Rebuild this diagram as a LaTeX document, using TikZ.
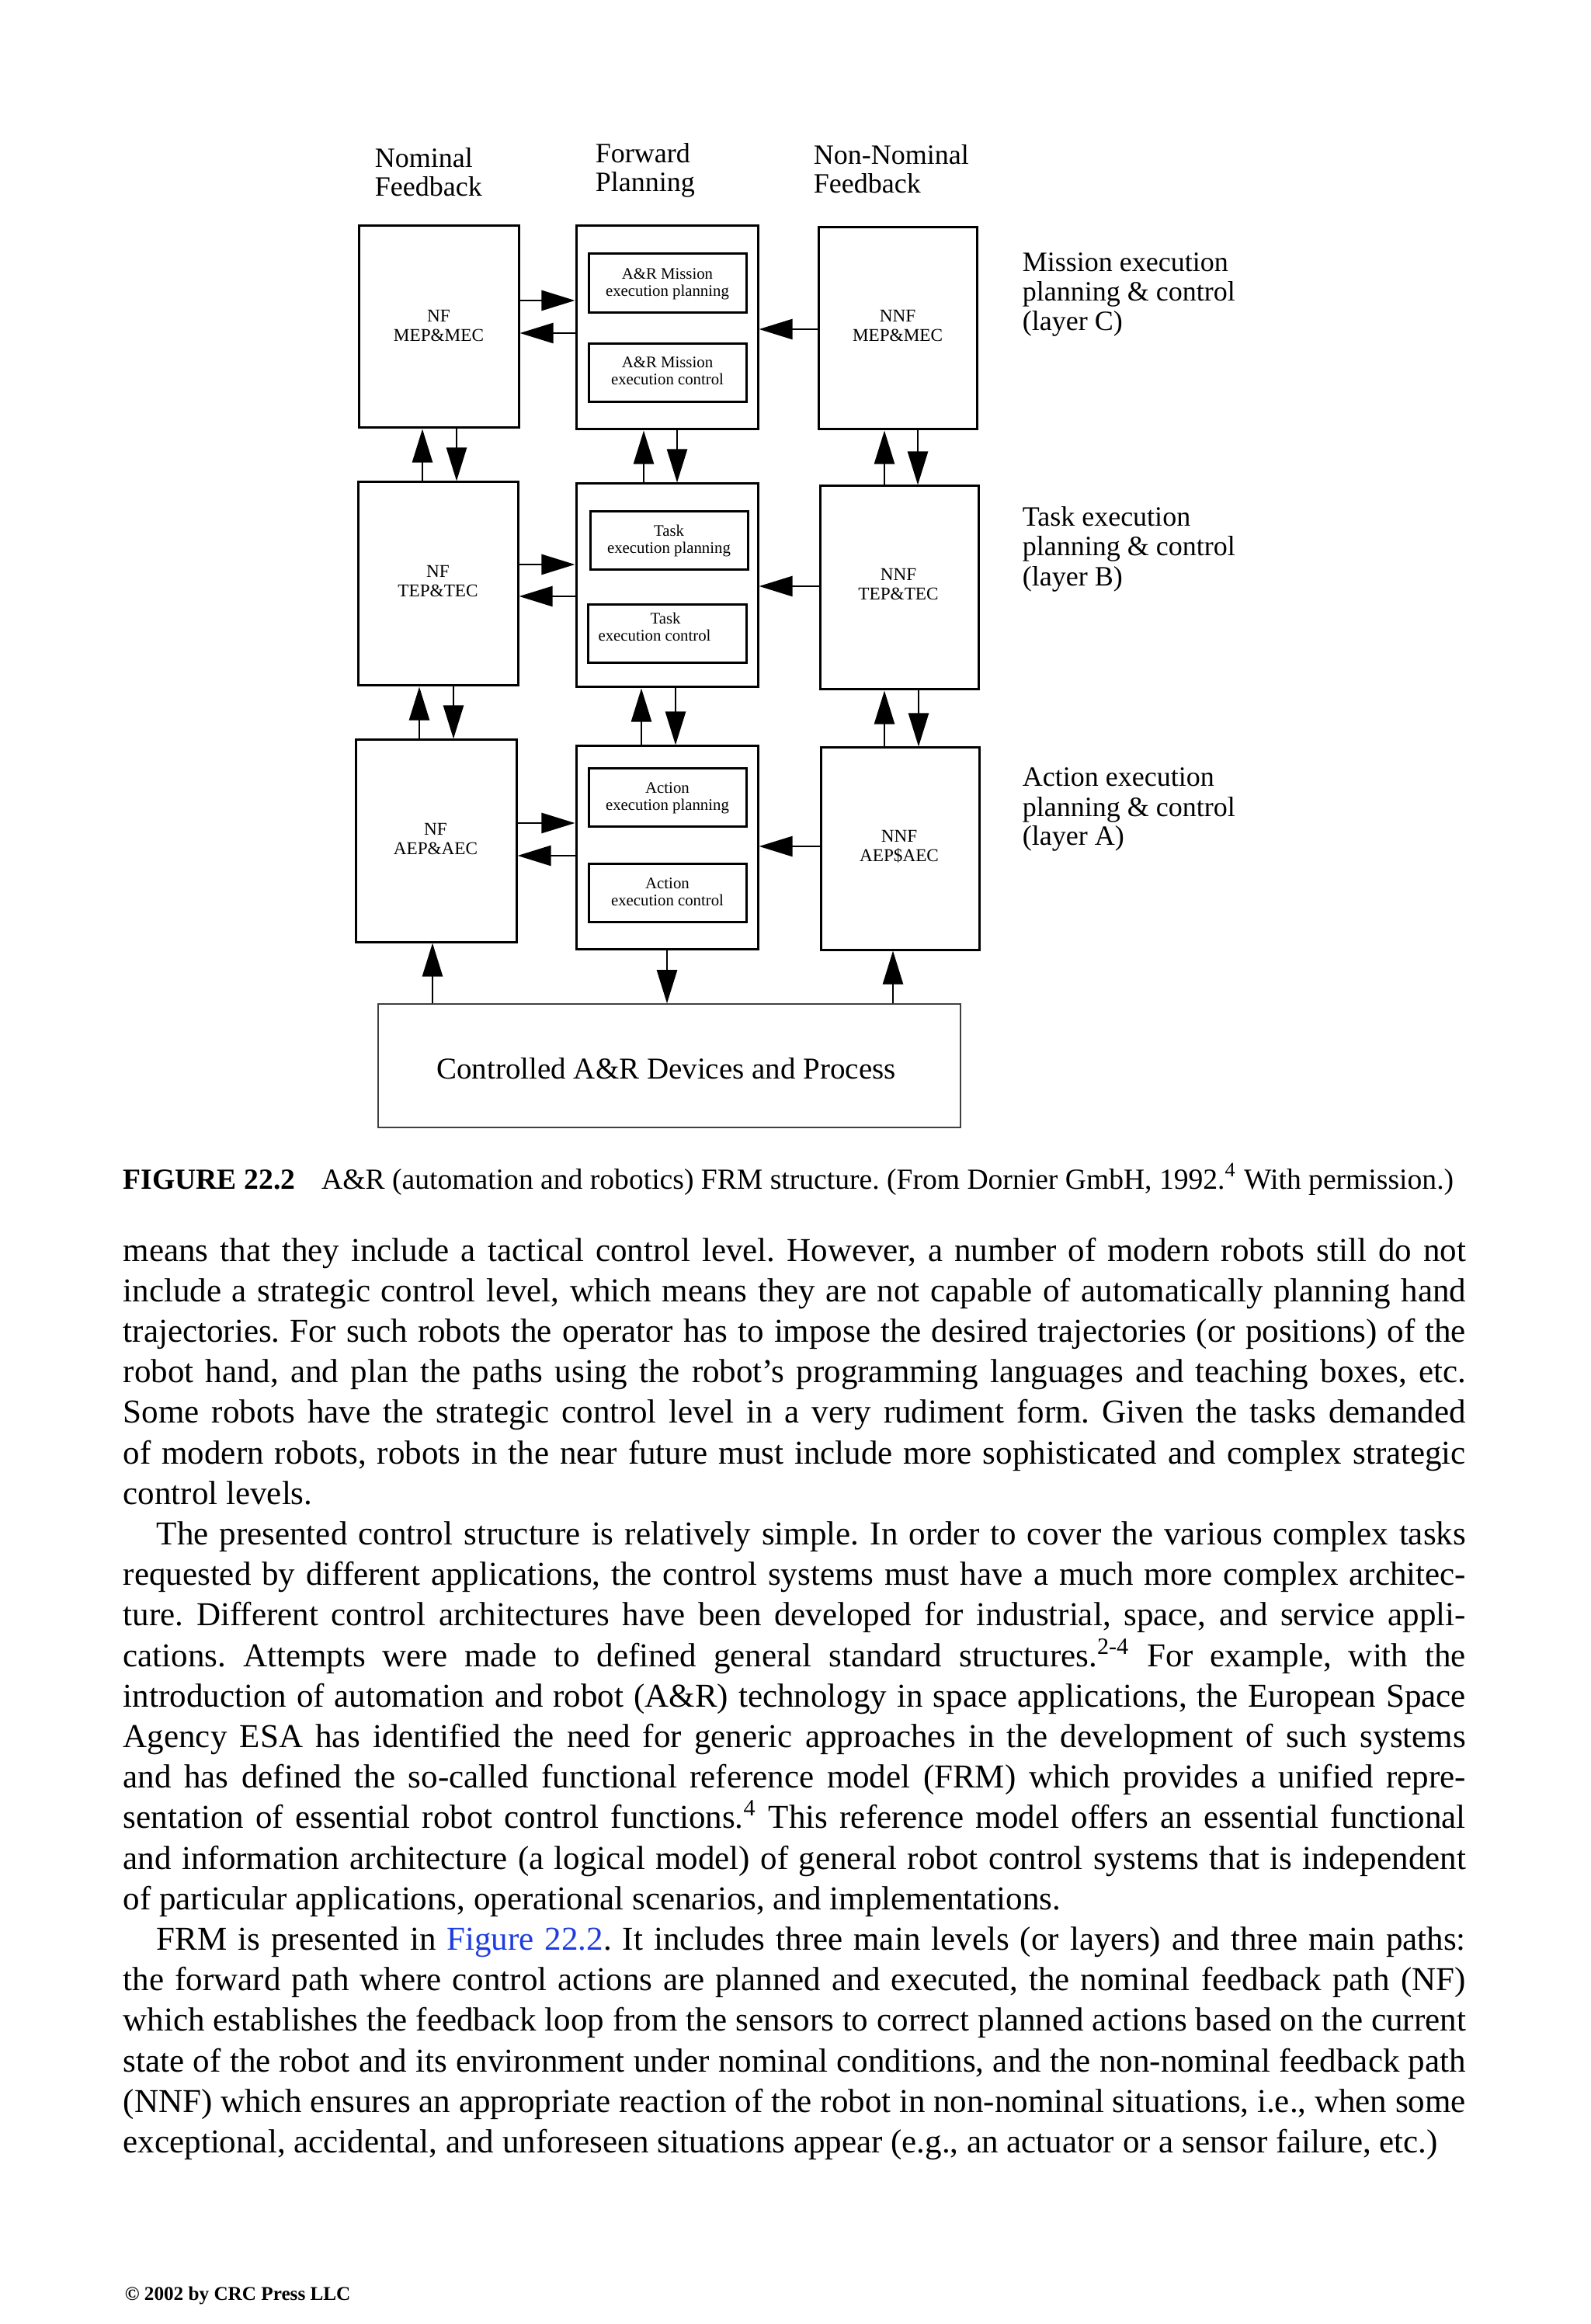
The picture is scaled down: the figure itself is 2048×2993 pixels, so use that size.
\documentclass[tikz,border=0pt]{standalone}
\usepackage{fontspec}
\setmainfont{Liberation Serif}
\usetikzlibrary{arrows.meta,fit}
\definecolor{figblue}{RGB}{30,60,225}
\frenchspacing
\newcommand\myflab{\fontsize{5.8pt}{6.25pt}\selectfont}
\newcommand\myfinn{\fontsize{5.2pt}{5.5pt}\selectfont}
\newcommand\myfdev{\fontsize{9.75pt}{11pt}\selectfont}
\newcommand\myfhead{\fontsize{9pt}{9.5pt}\selectfont}
\newcommand\myfbody{\fontsize{10.75pt}{13pt}\selectfont}
\newcommand\myfcap{\fontsize{9.4pt}{11pt}\selectfont}
\newcommand\myfcopy{\fontsize{6.3pt}{8pt}\selectfont\bfseries}
\newcommand\myjline[3]{\node[txt,font=\myfbody] (#1) at (158,#2) {\hbox to 432.25pt{#3}};}
\newcommand\mynline[3]{\node[txt,font=\myfbody] (#1) at (158,#2) {#3};}
\begin{document}
\begin{tikzpicture}[x=0.25pt,y=-0.25pt,
  box/.style={draw, line width=0.75pt, inner sep=0pt},
  lab/.style={inner sep=0pt, align=center, font=\myflab},
  inn/.style={inner sep=0pt, align=center, font=\myfinn},
  devbox/.style={draw=black!75, line width=0.35pt, inner sep=0pt},
  arr/.style={line width=0.7pt, -{Triangle[length=10.8pt,width=6.5pt]}},
  txt/.style={inner sep=0pt, anchor=base west},
]
\useasboundingbox (0,0) rectangle (2048,2993);
\fill[white] (0,0) rectangle (2048,2993);

% column headers
\node[txt,font=\myfhead] (hn1) at (482,216) {Nominal};
\node[txt,font=\myfhead] (hn2) at (482,253) {Feedback};
\node[txt,font=\myfhead] (hf1) at (766,210) {Forward};
\node[txt,font=\myfhead] (hf2) at (766,247) {Planning};
\node[txt,font=\myfhead] (hx1) at (1047,212) {Non-Nominal};
\node[txt,font=\myfhead] (hx2) at (1047,249) {Feedback};

% layer labels
\node[txt,font=\myfhead] (lc1) at (1316,350) {Mission execution};
\node[txt,font=\myfhead] (lc2) at (1316,388) {planning \& control};
\node[txt,font=\myfhead] (lc3) at (1316,426) {(layer C)};
\node[txt,font=\myfhead] (lb1) at (1316,678) {Task execution};
\node[txt,font=\myfhead] (lb2) at (1316,716) {planning \& control};
\node[txt,font=\myfhead] (lb3) at (1316,755) {(layer B)};
\node[txt,font=\myfhead] (la1) at (1316,1013) {Action execution};
\node[txt,font=\myfhead] (la2) at (1316,1051) {planning \& control};
\node[txt,font=\myfhead] (la3) at (1316,1089) {(layer A)};

% NF column
\node[box, fit={(462,291) (668,551)}] (nf1) {};
\node[box, fit={(461,621) (667,883)}] (nf2) {};
\node[box, fit={(458,953) (665,1213)}] (nf3) {};
\node[lab] (nf1t) at (565,419.5) {NF\\MEP\&MEC};
\node[lab] (nf2t) at (564,748.5) {NF\\TEP\&TEC};
\node[lab] (nf3t) at (561,1080.5) {NF\\AEP\&AEC};
% NNF column
\node[box, fit={(1054,293) (1258,553)}] (nnf1) {};
\node[box, fit={(1056,626) (1260,888)}] (nnf2) {};
\node[box, fit={(1057,963) (1261,1223)}] (nnf3) {};
\node[lab] (nnf1t) at (1156,420) {NNF\\MEP\&MEC};
\node[lab] (nnf2t) at (1157,752.5) {NNF\\TEP\&TEC};
\node[lab] (nnf3t) at (1158,1090) {NNF\\AEP\$AEC};
% forward column
\node[box, fit={(742,291) (976,553)}] (c1) {};
\node[box, fit={(742,623) (976,885)}] (c2) {};
\node[box, fit={(742,961) (976,1222)}] (c3) {};
\node[box, fit={(758,327) (961,403)}] (c1a) {};
\node[box, fit={(758,443) (961,518)}] (c1b) {};
\node[box, fit={(760,659) (963,734)}] (c2a) {};
\node[box, fit={(757,779) (961,854)}] (c2b) {};
\node[box, fit={(758,990) (961,1064)}] (c3a) {};
\node[box, fit={(758,1112) (961,1187)}] (c3b) {};
\node[inn] (c1at) at (859.5,366) {A\&R Mission\\execution planning};
\node[inn] (c1bt) at (859.5,478) {A\&R Mission\\execution control};
\node[inn] (c2at) at (861.5,696.5) {Task\\execution planning};
\node[inn] (c2bt) at (843,807) {\hspace*{7pt}Task\\execution control};
\node[inn] (c3at) at (859.5,1028) {Action\\execution planning};
\node[inn] (c3bt) at (859.5,1149) {Action\\execution control};

% controlled devices
\node[devbox, fit={(487,1293) (1237,1452)}] (dev) {};
\node[inner sep=0pt, anchor=base, font=\myfdev] (devt) at (858,1389) {Controlled A\&R Devices and Process};

% horizontal arrows
\draw[arr] (nf1.east |- 0,387) -- (c1.west |- 0,387);
\draw[arr] (c1.west |- 0,429) -- (nf1.east |- 0,429);
\draw[arr] (nnf1.west |- 0,424) -- (c1.east |- 0,424);
\draw[arr] (nf2.east |- 0,727) -- (c2.west |- 0,727);
\draw[arr] (c2.west |- 0,768) -- (nf2.east |- 0,768);
\draw[arr] (nnf2.west |- 0,755) -- (c2.east |- 0,755);
\draw[arr] (nf3.east |- 0,1060) -- (c3.west |- 0,1060);
\draw[arr] (c3.west |- 0,1102) -- (nf3.east |- 0,1102);
\draw[arr] (nnf3.west |- 0,1090) -- (c3.east |- 0,1090);

% vertical arrows row1-row2
\draw[arr] (nf2.north -| 544,0) -- (nf1.south -| 544,0);
\draw[arr] (nf1.south -| 588,0) -- (nf2.north -| 588,0);
\draw[arr] (c2.north -| 829,0) -- (c1.south -| 829,0);
\draw[arr] (c1.south -| 872,0) -- (c2.north -| 872,0);
\draw[arr] (nnf2.north -| 1139,0) -- (nnf1.south -| 1139,0);
\draw[arr] (nnf1.south -| 1182,0) -- (nnf2.north -| 1182,0);
% vertical arrows row2-row3
\draw[arr] (nf3.north -| 540,0) -- (nf2.south -| 540,0);
\draw[arr] (nf2.south -| 584,0) -- (nf3.north -| 584,0);
\draw[arr] (c3.north -| 826,0) -- (c2.south -| 826,0);
\draw[arr] (c2.south -| 870,0) -- (c3.north -| 870,0);
\draw[arr] (nnf3.north -| 1139,0) -- (nnf2.south -| 1139,0);
\draw[arr] (nnf2.south -| 1183,0) -- (nnf3.north -| 1183,0);
% bottom arrows
\draw[arr] (dev.north -| 557,0) -- (nf3.south -| 557,0);
\draw[arr] (c3.south -| 859,0) -- (dev.north -| 859,0);
\draw[arr] (dev.north -| 1150,0) -- (nnf3.south -| 1150,0);

% caption
\node[txt,font=\myfcap] (cap) at (158,1531) {\textbf{FIGURE 22.2}\hspace{8.5pt}A\&R (automation and robotics) FRM structure. (From Dornier GmbH, 1992.\textsuperscript{4} With permission.)};

% body text
\myjline{b1}{1624}{means that they include a tactical control level. However, a number of modern robots still do not}
\myjline{b2}{1676.2}{include a strategic control level, which means they are not capable of automatically planning hand}
\myjline{b3}{1728.4}{trajectories. For such robots the operator has to impose the desired trajectories (or positions) of the}
\myjline{b4}{1780.6}{robot hand, and plan the paths using the robot’s programming languages and teaching boxes, etc.}
\myjline{b5}{1832.8}{Some robots have the strategic control level in a very rudiment form. Given the tasks demanded}
\myjline{b6}{1885}{of modern robots, robots in the near future must include more sophisticated and complex strategic}
\mynline{b7}{1937.2}{control levels.}
\myjline{b8}{1989.4}{\hskip10.75pt The presented control structure is relatively simple. In order to cover the various complex tasks}
\myjline{b9}{2041.6}{requested by different applications, the control systems must have a much more complex architec-}
\myjline{b10}{2093.8}{ture. Different control architectures have been developed for industrial, space, and service appli-}
\myjline{b11}{2146}{cations. Attempts were made to defined general standard structures.\textsuperscript{2-4} For example, with the}
\myjline{b12}{2198.2}{introduction of automation and robot (A\&R) technology in space applications, the European Space}
\myjline{b13}{2250.4}{Agency ESA has identified the need for generic approaches in the development of such systems}
\myjline{b14}{2302.6}{and has defined the so-called functional reference model (FRM) which provides a unified repre-}
\myjline{b15}{2354.8}{sentation of essential robot control functions.\textsuperscript{4} This reference model offers an essential functional}
\myjline{b16}{2407}{and information architecture (a logical model) of general robot control systems that is independent}
\mynline{b17}{2459.2}{of particular applications, operational scenarios, and implementations.}
\myjline{b18}{2511.4}{\hskip10.75pt FRM is presented in {\color{figblue}Figure 22.2}. It includes three main levels (or layers) and three main paths:}
\myjline{b19}{2563.6}{the forward path where control actions are planned and executed, the nominal feedback path (NF)}
\myjline{b20}{2615.8}{which establishes the feedback loop from the sensors to correct planned actions based on the current}
\myjline{b21}{2668}{state of the robot and its environment under nominal conditions, and the non-nominal feedback path}
\myjline{b22}{2720.2}{(NNF) which ensures an appropriate reaction of the robot in non-nominal situations, i.e., when some}
\mynline{b23}{2772.4}{exceptional, accidental, and unforeseen situations appear (e.g., an actuator or a sensor failure, etc.)}

% copyright
\node[txt,font=\myfcopy] (copy) at (160,2962) {© 2002 by CRC Press LLC};
\end{tikzpicture}
\end{document}
